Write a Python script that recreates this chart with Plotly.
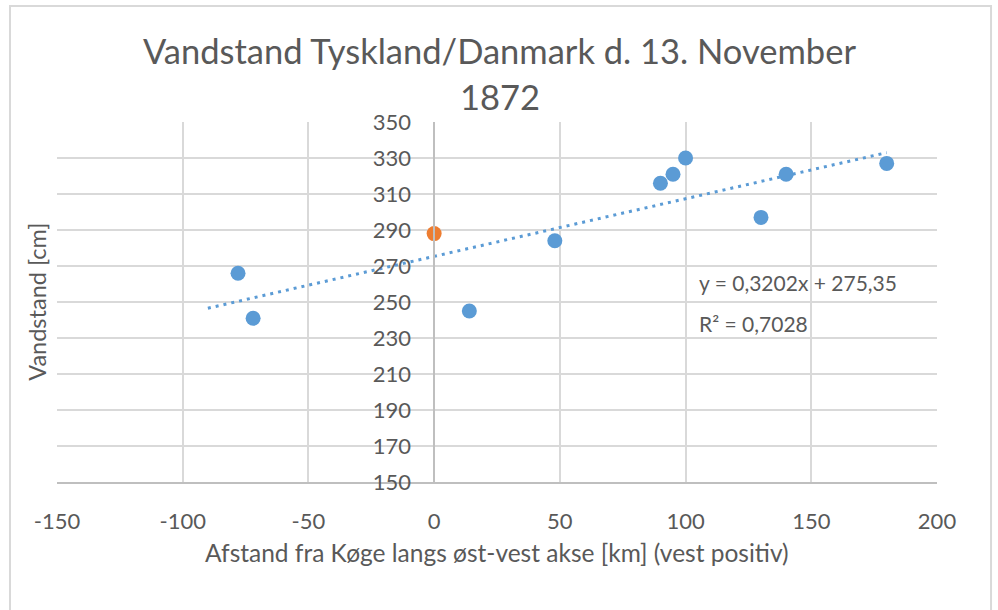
import plotly.graph_objects as go

# Measurements along the east-west axis (west positive), distance from Køge
distance_km = [-78, -72, 14, 48, 90, 95, 100, 130, 140, 180]
water_level_cm = [266, 241, 245, 284, 316, 321, 330, 297, 321, 327]

# Køge itself
koege_km = [0]
koege_cm = [288]

# Linear trendline (as reported in the equation label)
slope = 0.3202
intercept = 275.35
r_squared = 0.7028
trend_span_km = [-90, 180]

x_ticks = [-150, -100, -50, 0, 50, 100, 150, 200]
x_tick_labels = ["-150", "-100", "-50", "0", "50", "100", "150", "200"]
y_ticks = list(range(150, 351, 20))

title_lines = ["Vandstand Tyskland/Danmark d. 13. November", "1872"]
x_title = "Afstand fra Køge langs øst-vest akse [km] (vest positiv)"
y_title = "Vandstand [cm]"

BLUE = "#5B9BD5"
ORANGE = "#ED7D31"
TEXT = "#595959"
GRID = "#D9D9D9"
AXIS = "#BFBFBF"
FONT = "Lato"

x_range = [x_ticks[0], x_ticks[-1]]
y_range = [y_ticks[0], y_ticks[-1]]

trend_y = [slope * x + intercept for x in trend_span_km]

fig = go.Figure()

fig.add_trace(go.Scatter(
    x=trend_span_km, y=trend_y, mode="lines",
    line=dict(color=BLUE, width=3, dash="3px,5px"),
    hoverinfo="skip", showlegend=False,
))
fig.add_trace(go.Scatter(
    x=distance_km, y=water_level_cm, mode="markers",
    marker=dict(color=BLUE, size=15, line=dict(width=0)),
    showlegend=False,
))
fig.add_trace(go.Scatter(
    x=koege_km, y=koege_cm, mode="markers",
    marker=dict(color=ORANGE, size=15, line=dict(width=0)),
    showlegend=False,
))

# Y axis sits on x = 0
y_axis_pos = (0 - x_range[0]) / (x_range[1] - x_range[0])

title_annotations = [
    dict(text=line, x=0.503, y=ypos, xref="paper", yref="paper",
         xanchor="center", yanchor="middle", showarrow=False,
         font=dict(size=34.5, color=TEXT))
    for line, ypos in zip(title_lines, [1.2, 1.072])
]

fig.update_layout(
    width=998, height=610,
    margin=dict(l=57, r=61, t=122, b=128),
    paper_bgcolor="white", plot_bgcolor="white",
    font=dict(family=FONT, color=TEXT),
    xaxis=dict(
        range=x_range, tickvals=x_ticks, ticktext=x_tick_labels, domain=[0, 1],
        showgrid=True, gridcolor=GRID, gridwidth=1.5,
        zeroline=False, showline=True, linecolor=AXIS, linewidth=1.5,
        mirror=False, ticks="", tickfont=dict(size=22, color=TEXT),
        ticklabelstandoff=19, fixedrange=True,
    ),
    yaxis=dict(
        range=y_range, tickvals=y_ticks,
        anchor="free", position=y_axis_pos,
        showgrid=True, gridcolor=GRID, gridwidth=1.5,
        zeroline=False, showline=True, linecolor=AXIS, linewidth=1.5,
        ticks="", tickfont=dict(size=22, color=TEXT),
        ticklabelstandoff=18, fixedrange=True,
    ),
    annotations=title_annotations + [
        dict(text=x_title, x=0.5, y=-0.197, xref="paper", yref="paper",
             xanchor="center", yanchor="middle", showarrow=False,
             font=dict(size=24.5, color=TEXT)),
        dict(text=y_title, x=-0.023, y=0.5, xref="paper", yref="paper",
             xanchor="center", yanchor="middle", textangle=-90,
             showarrow=False, font=dict(size=23.5, color=TEXT)),
        dict(text="y = 0,3202x + 275,35", x=104.5, y=261.1,
             xref="x", yref="y", xanchor="left", yanchor="middle",
             showarrow=False, font=dict(size=21, color=TEXT)),
        dict(text="R² = 0,7028", x=104.5, y=238.3,
             xref="x", yref="y", xanchor="left", yanchor="middle",
             showarrow=False, font=dict(size=21, color=TEXT)),
    ],
    shapes=[
        dict(type="rect", xref="paper", yref="paper",
             x0=-0.0534, x1=1.0614, y0=-0.37, y1=1.3222,
             line=dict(color=GRID, width=2), fillcolor="rgba(0,0,0,0)",
             layer="below"),
    ],
)

fig.write_html("out.html")
